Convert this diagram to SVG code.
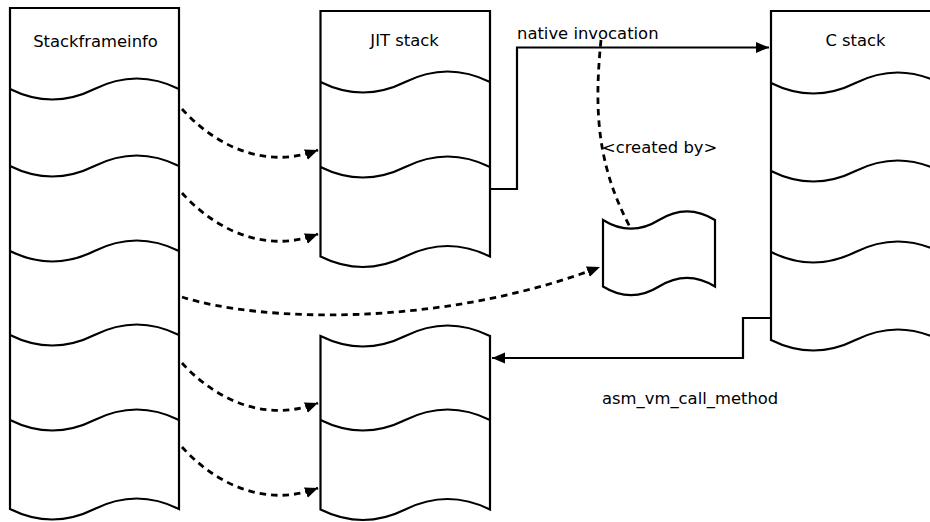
<svg xmlns="http://www.w3.org/2000/svg" width="930" height="522" viewBox="0 0 930 522">
<defs>
<style>
.shape{fill:#fff;stroke:#000;stroke-width:2.2;stroke-linejoin:miter}
.wave{fill:none;stroke:#000;stroke-width:2.2}
.edge{fill:none;stroke:#000;stroke-width:2.2}
.dash{fill:none;stroke:#000;stroke-width:2.8;stroke-dasharray:6.5 5}
text{font-family:"DejaVu Sans","Liberation Sans",sans-serif;font-size:16.4px;fill:#000}
</style>
<marker id="arr" markerUnits="userSpaceOnUse" markerWidth="14" markerHeight="12" refX="13" refY="5.5" orient="auto">
<path d="M0,0 L13,5.5 L0,11 Z" fill="#000"/>
</marker>
</defs>
<rect width="930" height="522" fill="#fff"/>

<g id="stackframeinfo">
<path class="shape" d="M10,8 H179 V509 Q136.75,488 94.5,509 T10,509 Z"/>
<path class="wave" d="M10,89 Q52.25,110 94.5,89 T179,89"/>
<path class="wave" d="M10,166 Q52.25,187 94.5,166 T179,166"/>
<path class="wave" d="M10,251 Q52.25,272 94.5,251 T179,251"/>
<path class="wave" d="M10,335 Q52.25,356 94.5,335 T179,335"/>
<path class="wave" d="M10,420 Q52.25,441 94.5,420 T179,420"/>
<text x="95.5" y="47" text-anchor="middle">Stackframeinfo</text>
</g>

<g id="jit-stack">
<path class="shape" d="M320.5,11 H490 V256.5 Q447.6,235.5 405.25,256.5 T320.5,256.5 Z"/>
<path class="wave" d="M320.5,82 Q362.9,103 405.25,82 T490,82"/>
<path class="wave" d="M320.5,167 Q362.9,188 405.25,167 T490,167"/>
<text x="404.5" y="46" text-anchor="middle">JIT stack</text>
</g>

<g id="vm-stack">
<path class="shape" d="M320.5,336 Q362.9,357 405.25,336 T490,336 V509.5 Q447.6,488.5 405.25,509.5 T320.5,509.5 Z"/>
<path class="wave" d="M320.5,420 Q362.9,441 405.25,420 T490,420"/>
</g>

<g id="c-stack">
<path class="shape" d="M771,11 H940 V340 Q897.75,319 855.5,340 T771,340 Z"/>
<path class="wave" d="M771,83 Q813.25,104 855.5,83 T940,83"/>
<path class="wave" d="M771,171 Q813.25,192 855.5,171 T940,171"/>
<path class="wave" d="M771,252 Q813.25,273 855.5,252 T940,252"/>
<text x="855.5" y="46" text-anchor="middle">C stack</text>
</g>

<g id="native-frame">
<path class="shape" d="M603,220 Q631,237.4 659,220 T715,220 V286.5 Q687,269.1 659,286.5 T603,286.5 Z"/>
</g>

<g id="connectors">
<path class="dash" d="M182,109 C210,140 260,172 318,150" marker-end="url(#arr)"/>
<path class="dash" d="M182,193 C210,224 260,256 318,234" marker-end="url(#arr)"/>
<path class="dash" d="M182,297 C260,322 440,328 600,267" marker-end="url(#arr)"/>
<path class="dash" d="M182,363 C210,394 260,425 318,403" marker-end="url(#arr)"/>
<path class="dash" d="M182,447 C210,478 260,510 318,488" marker-end="url(#arr)"/>
<path class="dash" d="M601,40 C594,110 597,165 630,227"/>
<path class="edge" d="M490,189 H517 V47.5 H769" marker-end="url(#arr)"/>
<path class="edge" d="M771,318 H743 V358 H492" marker-end="url(#arr)"/>
<text x="517" y="39">native invocation</text>
<text x="602" y="153">&lt;created by&gt;</text>
<text x="602" y="404">asm_vm_call_method</text>
</g>
</svg>
